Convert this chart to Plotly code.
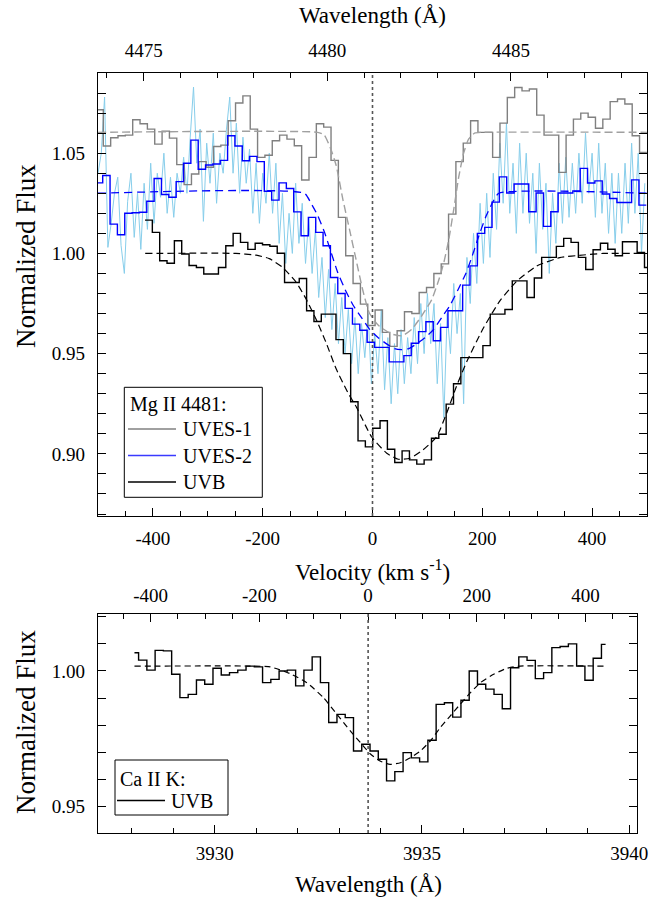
import numpy as np
import plotly.graph_objects as go

C_KMS = 299792.458
MG_REST = 4481.23   # Å  (velocity zero, upper panel)
CA_REST = 3933.70   # Å  (velocity zero, lower panel)

# ---------------- Upper panel: Mg II 4481 (velocity, km/s) ----------------
BIN_KMS = 13.38

uves1_start = -503.7
uves1_flux = [1.0717, 1.0536, 1.0577, 1.0587, 1.0590, 1.0667, 1.0647, 1.0620, 1.0545, 1.0610,
              1.0575, 1.0443, 1.0343, 1.0396, 1.0458, 1.0430, 1.0533, 1.0540, 1.0662, 1.0750,
              1.0786, 1.0620, 1.0479, 1.0490, 1.0562, 1.0590, 1.0570, 1.0537, 1.0366, 1.0479,
              1.0647, 1.0630, 1.0464, 1.0180, 0.9988, 0.9850, 0.9747, 0.9640, 0.9718, 0.9606,
              0.9536, 0.9614, 0.9709, 0.9700, 0.9805, 0.9830, 0.9900, 0.9948, 1.0196, 1.0458,
              1.0550, 1.0662, 1.0604, 1.0604, 1.0479, 1.0650, 1.0778, 1.0828, 1.0811, 1.0820,
              1.0690, 1.0590, 1.0590, 1.0404, 1.0590, 1.0670, 1.0700, 1.0679, 1.0624, 1.0670,
              1.0757, 1.0770, 1.0745, 1.0587, 1.0504]

uves2_start = -504.8
uves2_flux = [1.0352, 1.0389, 1.0146, 1.0093, 1.0200, 1.0203, 1.0205, 1.0260, 1.0374, 1.0294,
              1.0280, 1.0358, 1.0450, 1.0565, 1.0420, 1.0441, 1.0446, 1.0464, 1.0587, 1.0536,
              1.0462, 1.0484, 1.0458, 1.0310, 1.0266, 1.0352, 1.0324, 1.0207, 1.0088, 1.0180,
              1.0105, 1.0038, 0.9880, 0.9800, 0.9726, 0.9647, 0.9617, 0.9557, 0.9531, 0.9531,
              0.9459, 0.9459, 0.9490, 0.9552, 0.9610, 0.9659, 0.9564, 0.9631, 0.9714, 0.9714,
              0.9842, 0.9938, 1.0100, 1.0130, 1.0256, 1.0382, 1.0301, 1.0346, 1.0346, 1.0208,
              1.0301, 1.0135, 1.0208, 1.0301, 1.0301, 1.0312, 1.0424, 1.0351, 1.0362, 1.0296,
              1.0274, 1.0254, 1.0254, 1.0367, 1.0241]

uvb_start = -414.4
uvb_flux = [1.0166, 1.0105, 0.9963, 0.9951, 1.0063, 0.9997, 0.9940, 0.9930, 0.9897, 0.9897,
            0.9930, 1.0038, 1.0100, 1.0055, 1.0020, 1.0051, 1.0043, 1.0036, 1.0001, 0.9855,
            0.9855, 0.9875, 0.9714, 0.9660, 0.9697, 0.9697, 0.9570, 0.9500, 0.9260, 0.9065,
            0.9035, 0.9128, 0.9165, 0.9023, 0.8957, 0.9015, 0.8970, 0.8949, 0.8970, 0.9078,
            0.9098, 0.9248, 0.9350, 0.9480, 0.9480, 0.9480, 0.9540, 0.9697, 0.9697, 0.9720,
            0.9863, 0.9863, 0.9780, 0.9877, 0.9980, 0.9980, 1.0035, 1.0075, 1.0055, 0.9980,
            0.9920, 1.0018, 1.0051, 1.0021, 0.9988, 1.0058, 1.0058, 1.0005, 0.9930]

# UVES-2 unbinned spectrum (light blue)
uves2_raw_v0 = -500.0
uves2_raw_step = 6.0
uves2_raw_flux = [1.040, 1.050, 1.078, 1.003, 1.015, 1.030, 1.038, 1.004, 0.990, 1.026,
                  1.040, 1.008, 1.030, 1.002, 1.035, 1.012, 1.045, 1.015, 1.040, 1.028,
                  1.050, 1.020, 1.038, 1.018, 1.040, 1.030, 1.048, 1.030, 1.058, 1.083,
                  1.045, 1.062, 1.016, 1.055, 1.035, 1.060, 1.025, 1.050, 1.040, 1.062,
                  1.078, 1.040, 1.065, 1.030, 1.058, 1.035, 1.052, 1.020, 1.045, 1.015,
                  1.040, 1.025, 1.050, 1.020, 1.045, 1.005, 1.030, 0.995, 1.020, 1.000,
                  1.035, 1.005, 1.025, 0.995, 1.018, 0.990, 1.012, 0.978, 0.998, 0.968,
                  0.992, 0.962, 0.985, 0.955, 0.978, 0.950, 0.972, 0.945, 0.968, 0.940,
                  0.965, 0.948, 0.970, 0.935, 0.960, 0.940, 0.972, 0.932, 0.958, 0.925,
                  0.955, 0.930, 0.962, 0.935, 0.958, 0.940, 0.968, 0.945, 0.975, 0.950,
                  0.980, 0.955, 0.975, 0.935, 0.965, 0.918, 0.970, 0.950, 0.985, 0.960,
                  0.980, 0.925, 0.998, 0.975, 1.010, 0.985, 1.025, 0.995, 1.030, 0.998,
                  1.040, 1.012, 1.055, 1.025, 1.065, 1.020, 1.045, 1.010, 1.055, 1.020,
                  1.050, 1.015, 1.040, 1.000, 1.045, 1.012, 1.035, 0.990, 1.030, 1.005,
                  1.045, 1.015, 1.048, 1.018, 1.045, 1.020, 1.050, 1.025, 1.060, 1.030,
                  1.050, 1.018, 1.055, 1.020, 1.045, 1.010, 1.040, 1.005, 1.040, 1.010,
                  1.045, 1.015, 1.055, 1.020, 1.050, 1.000, 1.035]

# model fits (dashed)
uves1_fit_v = [-500, -100, -88, -76, -66, -54, -42, -30, -18, -6, 11, 35, 54, 72, 90, 108,
               121, 130, 139, 148, 157, 166, 175, 186, 200, 500]
uves1_fit_f = [1.0604, 1.0604, 1.0591, 1.0521, 1.0437, 1.0270, 1.0121, 0.9970, 0.9820, 0.9704,
               0.9640, 0.9598, 0.9589, 0.9623, 0.9690, 0.9770, 0.9870, 0.9955, 1.0070, 1.0220,
               1.0380, 1.0500, 1.0570, 1.0600, 1.0604, 1.0604]
uves2_fit_v = [-500, -124, -112, -100, -88, -76, -64, -50, -35, -20, -5, 10, 25, 40, 53, 66,
               81, 96, 111, 126, 141, 156, 170, 182, 194, 206, 218, 230, 500]
uves2_fit_f = [1.030, 1.030, 1.025, 1.019, 1.011, 1.001, 0.991, 0.982, 0.974, 0.968, 0.962,
               0.958, 0.955, 0.9525, 0.952, 0.9525, 0.955, 0.958, 0.962, 0.968, 0.974, 0.982,
               0.990, 0.999, 1.009, 1.018, 1.025, 1.030, 1.030]
uvb_fit_v = [-414, -249, -212, -188, -164, -139, -121, -103, -85, -66, -45, -29, -2, 26, 47,
             68, 92, 117, 135, 153, 172, 202, 232, 263, 299, 341, 384, 420, 490]
uvb_fit_f = [1.000, 1.000, 0.9991, 0.9974, 0.9931, 0.9856, 0.9773, 0.9673, 0.9558, 0.9423,
             0.9306, 0.9232, 0.9086, 0.9003, 0.8973, 0.8978, 0.9020, 0.9086, 0.9203, 0.9337,
             0.9462, 0.9628, 0.9763, 0.9862, 0.9937, 0.9979, 0.9992, 1.000, 1.000]

# ---------------- Lower panel: Ca II K (wavelength, Å) ----------------
cak_wave_start = 3928.06
cak_wave_step = 0.1995
cak_flux = [1.0067, 1.0040, 1.0003, 1.0076, 1.0074, 0.9988, 0.9902, 0.9914, 0.9967, 0.9951,
            1.0010, 0.9985, 0.9994, 1.0003, 1.0018, 1.0015, 0.9957, 0.9969, 1.0000, 1.0003,
            0.9945, 1.0003, 1.0052, 0.9957, 0.9810, 0.9840, 0.9828, 0.9705, 0.9730, 0.9705,
            0.9675, 0.9595, 0.9629, 0.9699, 0.9680, 0.9665, 0.9745, 0.9877, 0.9883, 0.9830,
            0.9892, 1.0000, 0.9951, 0.9933, 0.9914, 0.9861, 1.0012, 1.0052, 1.0039, 0.9972,
            0.9994, 1.0086, 1.0090, 1.0100, 1.0018, 0.9966, 1.0047, 1.0098]
cak_fit_w = [3928.06, 3930.97, 3931.34, 3931.82, 3932.22, 3932.62, 3932.95, 3933.27, 3933.52,
             3933.75, 3933.99, 3934.23, 3934.48, 3934.72, 3934.96, 3935.20, 3935.44, 3935.68,
             3935.92, 3936.17, 3936.41, 3936.73, 3937.05, 3937.37, 3939.43]
cak_fit_f = [1.0018, 1.0018, 1.0015, 0.9990, 0.9957, 0.9902, 0.9840, 0.9779, 0.9735,
             0.9695, 0.9668, 0.9656, 0.9662, 0.9680, 0.9705, 0.9742, 0.9791, 0.9834,
             0.9877, 0.9920, 0.9957, 0.9988, 1.0010, 1.0018, 1.0018]

# axis ranges and tick labels
V_RANGE = [-500, 500]
Y1_RANGE = [0.869, 1.090]
W2_RANGE = [3927.18, 3940.19]
Y2_RANGE = [0.9403, 1.021]
V_TICKS = [-400, -200, 0, 200, 400]
V_TICKTEXT = ["-400", "-200", "0", "200", "400"]

# ---------------- build figure ----------------
W, H = 649, 897
PL, PR, PT, PB = 98, 647, 73, 833


def px(x):
    return (x - PL) / (PR - PL)


def py(y):
    return (PB - y) / (PB - PT)


def step_edges(start, values):
    edges = start + BIN_KMS * np.arange(len(values) + 1)
    return edges, list(values) + [values[-1]]


fig = go.Figure()

raw_v = uves2_raw_v0 + uves2_raw_step * np.arange(len(uves2_raw_flux))
fig.add_trace(go.Scatter(x=raw_v, y=uves2_raw_flux, mode="lines",
                         line=dict(color="#87CEEB", width=1), showlegend=False))

ex, ey = step_edges(uves1_start, uves1_flux)
fig.add_trace(go.Scatter(x=ex, y=ey, mode="lines", line_shape="hv",
                         line=dict(color="#808080", width=1.4), name="UVES-1", showlegend=False))
fig.add_trace(go.Scatter(x=uves1_fit_v, y=uves1_fit_f, mode="lines",
                         line=dict(color="#a0a0a0", width=1.4, dash="8px,4px", shape="spline",
                                   smoothing=0.5), showlegend=False))

ex, ey = step_edges(uves2_start, uves2_flux)
fig.add_trace(go.Scatter(x=ex, y=ey, mode="lines", line_shape="hv",
                         line=dict(color="#0000ff", width=1.4), name="UVES-2", showlegend=False))
fig.add_trace(go.Scatter(x=uves2_fit_v, y=uves2_fit_f, mode="lines",
                         line=dict(color="#0000ff", width=1.3, dash="8px,5px", shape="spline",
                                   smoothing=0.5), showlegend=False))

ex, ey = step_edges(uvb_start, uvb_flux)
fig.add_trace(go.Scatter(x=ex, y=ey, mode="lines", line_shape="hv",
                         line=dict(color="#000000", width=1.4), name="UVB", showlegend=False))
fig.add_trace(go.Scatter(x=uvb_fit_v, y=uvb_fit_f, mode="lines",
                         line=dict(color="#000000", width=1.2, dash="7px,4px", shape="spline",
                                   smoothing=0.5), showlegend=False))

# lower panel
cak_w = cak_wave_start + cak_wave_step * np.arange(len(cak_flux))
fig.add_trace(go.Scatter(x=cak_w, y=cak_flux, mode="lines", line_shape="hvh",
                         line=dict(color="#000000", width=1.4), xaxis="x3", yaxis="y2",
                         name="UVB", showlegend=False))
fig.add_trace(go.Scatter(x=cak_fit_w, y=cak_fit_f, mode="lines",
                         line=dict(color="#000000", width=1.2, dash="6px,4px", shape="spline",
                                   smoothing=0.5),
                         xaxis="x3", yaxis="y2", showlegend=False))

# dotted zero-velocity lines
fig.add_shape(type="line", xref="x", yref="y", x0=0, x1=0, y0=Y1_RANGE[0], y1=Y1_RANGE[1],
              line=dict(color="#555555", width=1.6, dash="dot"))
fig.add_shape(type="line", xref="x3", yref="y2", x0=CA_REST, x1=CA_REST,
              y0=Y2_RANGE[0], y1=Y2_RANGE[1], line=dict(color="#555555", width=1.6, dash="dot"))

FONT = "Liberation Serif, Times New Roman, serif"
tickfont = dict(family=FONT, size=19, color="black")


def ax(**kw):
    d = dict(showline=True, linecolor="black", linewidth=1.4, ticks="inside", ticklen=8,
             tickwidth=1.3, tickcolor="black", showgrid=False, zeroline=False,
             tickfont=tickfont, automargin=False)
    d.update(kw)
    return d


def minor(dt):
    return dict(dtick=dt, ticks="inside", ticklen=4.5, tickwidth=1.2, tickcolor="black",
                showgrid=False)


Y1_DOM = [py(516), 1.0]
Y2_DOM = [0.0, py(614)]
X3_DOM = [0.0, px(637)]

w_top = [MG_REST * (1 + V_RANGE[0] / C_KMS), MG_REST * (1 + V_RANGE[1] / C_KMS)]
v_bot = [C_KMS * (W2_RANGE[0] / CA_REST - 1), C_KMS * (W2_RANGE[1] / CA_REST - 1)]

fig.update_layout(
    width=W, height=H, autosize=False,
    margin=dict(l=PL, r=W - PR, t=PT, b=H - PB, autoexpand=False),
    paper_bgcolor="white", plot_bgcolor="white",
    showlegend=False,
    xaxis=ax(domain=[0, 1], anchor="y", range=V_RANGE, tickvals=V_TICKS, ticktext=V_TICKTEXT,
             minor=minor(50), ticklabelstandoff=5),
    xaxis2=ax(domain=[0, 1], anchor="y", overlaying="x", side="top", range=w_top,
              dtick=5, tick0=4475, minor=minor(1), ticklabelstandoff=7),
    yaxis=ax(domain=Y1_DOM, anchor="x", range=Y1_RANGE, dtick=0.05, tick0=0.9,
             tickformat=".2f", minor=minor(0.01), mirror="allticks", ticklabelstandoff=8),
    xaxis3=ax(domain=X3_DOM, anchor="y2", range=W2_RANGE, dtick=5, tick0=3930,
              minor=minor(1), ticklabelstandoff=3),
    xaxis4=ax(domain=X3_DOM, anchor="y2", overlaying="x3", side="top", range=v_bot,
              tickvals=V_TICKS, ticktext=V_TICKTEXT, minor=minor(50), ticklabelstandoff=3),
    yaxis2=ax(domain=Y2_DOM, anchor="x3", range=Y2_RANGE, dtick=0.05, tick0=0.95,
              tickformat=".2f", minor=minor(0.01), mirror="allticks", ticklabelstandoff=8),
)

# invisible traces so overlay axes exist
fig.add_trace(go.Scatter(x=w_top, y=Y1_RANGE, xaxis="x2", yaxis="y", mode="none",
                         showlegend=False, hoverinfo="skip"))
fig.add_trace(go.Scatter(x=v_bot, y=Y2_RANGE, xaxis="x4", yaxis="y2", mode="none",
                         showlegend=False, hoverinfo="skip"))

TF = dict(family=FONT, size=23, color="black")
YF = dict(family=FONT, size=27, color="black")
LF = dict(family=FONT, size=20, color="black")


def label(text, x, y, font=TF, angle=0, xanchor="center"):
    fig.add_annotation(text=text, x=px(x), y=py(y), xref="paper", yref="paper",
                       showarrow=False, font=font, textangle=angle, xanchor=xanchor,
                       yanchor="middle")


label("Wavelength (Å)", 372.5, 15)
label("Normalized Flux", 26, 256, font=YF, angle=-90)
label("Velocity (km s<sup>-1</sup>)", 372.5, 570)
label("Normalized Flux", 26, 722, font=YF, angle=-90)
label("Wavelength (Å)", 368, 884)

# manual legends
fig.add_shape(type="rect", xref="paper", yref="paper", x0=px(124.3), x1=px(262.3),
              y0=py(497.3), y1=py(387.3), line=dict(color="black", width=1), fillcolor="white",
              layer="above")
label("Mg II 4481:", 128, 404, font=LF, xanchor="left")
for yy, col, name in [(429, "#808080", "UVES-1"), (455.5, "#3a3aff", "UVES-2"), (482, "#000000", "UVB")]:
    fig.add_shape(type="line", xref="paper", yref="paper", x0=px(128), x1=px(176),
                  y0=py(yy), y1=py(yy), line=dict(color=col, width=1.3), layer="above")
    label(name, 181, yy, font=LF, xanchor="left")

fig.add_shape(type="rect", xref="paper", yref="paper", x0=px(115), x1=px(228),
              y0=py(815), y1=py(760), line=dict(color="black", width=1), fillcolor="white",
              layer="above")
label("Ca II K:", 118, 779, font=LF, xanchor="left")
fig.add_shape(type="line", xref="paper", yref="paper", x0=px(117), x1=px(165),
              y0=py(800.5), y1=py(800.5), line=dict(color="#000000", width=1.3), layer="above")
label("UVB", 169, 800.5, font=LF, xanchor="left")

fig.write_html("out.html", config={"displayModeBar": False},
               post_script="document.body.style.margin='0';")
